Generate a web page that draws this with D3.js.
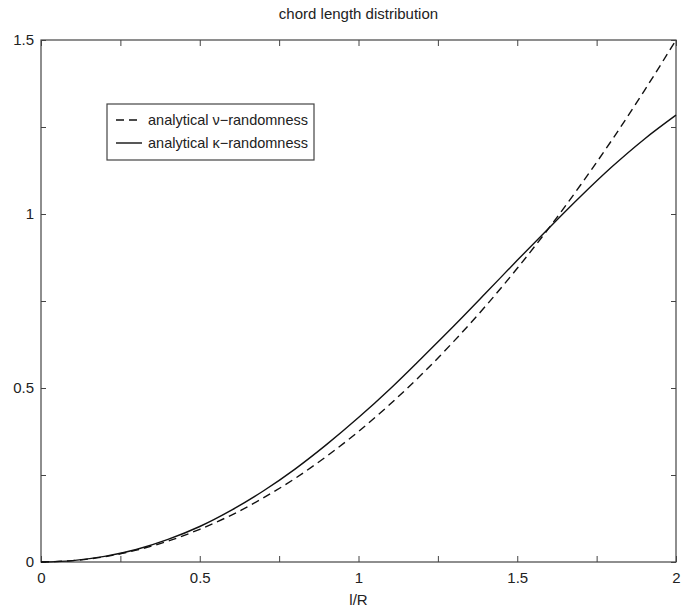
<!DOCTYPE html>
<html>
<head>
<meta charset="utf-8">
<script src="https://cdn.jsdelivr.net/npm/d3@7"></script>
<style>
  body { margin: 0; background: #fff; }
  svg { display: block; font-family: "Liberation Sans", Arial, sans-serif; }
</style>
</head>
<body>
<svg id="chart" width="682" height="612"></svg>
<script>
// l/R sample positions
const lr = [0, 0.1, 0.2, 0.3, 0.4, 0.5, 0.6, 0.7, 0.8, 0.9, 1.0,
            1.1, 1.2, 1.3, 1.4, 1.5, 1.6, 1.7, 1.8, 1.9, 2.0]

// analytical nu-randomness (dashed)
const nuValues = [0, 0.004, 0.015, 0.034, 0.060, 0.094, 0.135, 0.184, 0.240, 0.304, 0.375,
                  0.454, 0.540, 0.634, 0.735, 0.844, 0.960, 1.084, 1.215, 1.354, 1.500]

// analytical kappa-randomness (solid)
const kappaValues = [0, 0.004, 0.016, 0.036, 0.065, 0.102, 0.149, 0.204, 0.267, 0.338, 0.415,
                     0.498, 0.587, 0.678, 0.772, 0.867, 0.960, 1.051, 1.137, 1.215, 1.284]

const xTicks = [0, 0.25, 0.5, 0.75, 1, 1.25, 1.5, 1.75, 2]
const yTicks = [0, 0.25, 0.5, 0.75, 1, 1.25, 1.5]

const series = [
  { label: "analytical \u03bd\u2212randomness", values: nuValues, dash: "8,5" },
  { label: "analytical \u03ba\u2212randomness", values: kappaValues, dash: null }
]

const margin = { top: 40, right: 6, bottom: 50, left: 41 }
const width = 682 - margin.left - margin.right
const height = 612 - margin.top - margin.bottom

const svg = d3.select("#chart")
const g = svg.append("g").attr("transform", `translate(${margin.left},${margin.top})`)

const x = d3.scaleLinear().domain([0, 2]).range([0, width])
const y = d3.scaleLinear().domain([0, 1.5]).range([height, 0])

const label = d => (d * 2) % 1 === 0 ? d3.format("")(d) : ""
const axisColor = "#444"

function styleAxis(sel) {
  sel.select(".domain").remove()
  sel.selectAll(".tick line").attr("stroke", axisColor)
  sel.selectAll(".tick text").attr("fill", "#222").style("font-size", "15px")
}

g.append("g")
  .attr("transform", `translate(0,${height})`)
  .call(d3.axisBottom(x).tickValues(xTicks).tickSize(-6).tickPadding(10).tickFormat(label))
  .call(styleAxis)

g.append("g")
  .call(d3.axisTop(x).tickValues(xTicks).tickSize(-6).tickFormat(""))
  .call(styleAxis)

g.append("g")
  .call(d3.axisLeft(y).tickValues(yTicks).tickSize(-5).tickPadding(7).tickFormat(label))
  .call(styleAxis)

g.append("g")
  .attr("transform", `translate(${width},0)`)
  .call(d3.axisRight(y).tickValues(yTicks).tickSize(-5).tickFormat(""))
  .call(styleAxis)

g.append("rect")
  .attr("width", width)
  .attr("height", height)
  .attr("fill", "none")
  .attr("stroke", axisColor)
  .attr("stroke-width", 1.2)

const line = d3.line()
  .x((d, i) => x(lr[i]))
  .y(d => y(d))
  .curve(d3.curveMonotoneX)

series.forEach(s => {
  g.append("path")
    .datum(s.values)
    .attr("fill", "none")
    .attr("stroke", "#111")
    .attr("stroke-width", 1.4)
    .attr("stroke-dasharray", s.dash)
    .attr("d", line)
})

// title and axis label
svg.append("text")
  .attr("x", margin.left + width / 2)
  .attr("y", 19)
  .attr("text-anchor", "middle")
  .attr("fill", "#222")
  .style("font-size", "15px")
  .text("chord length distribution")

svg.append("text")
  .attr("x", margin.left + width / 2)
  .attr("y", 605)
  .attr("text-anchor", "middle")
  .attr("fill", "#222")
  .style("font-size", "15px")
  .text("l/R")

// legend
const legend = svg.append("g").attr("transform", "translate(107,104)")
legend.append("rect")
  .attr("width", 207)
  .attr("height", 56)
  .attr("fill", "#fff")
  .attr("stroke", axisColor)
  .attr("stroke-width", 1.2)

series.forEach((s, i) => {
  const row = legend.append("g").attr("transform", `translate(0,${16 + i * 23})`)
  row.append("line")
    .attr("x1", 9).attr("x2", 35)
    .attr("stroke", "#111")
    .attr("stroke-width", 1.4)
    .attr("stroke-dasharray", s.dash)
  row.append("text")
    .attr("x", 41)
    .attr("dy", "0.35em")
    .attr("fill", "#222")
    .style("font-size", "14.5px")
    .text(s.label)
})
</script>
</body>
</html>
